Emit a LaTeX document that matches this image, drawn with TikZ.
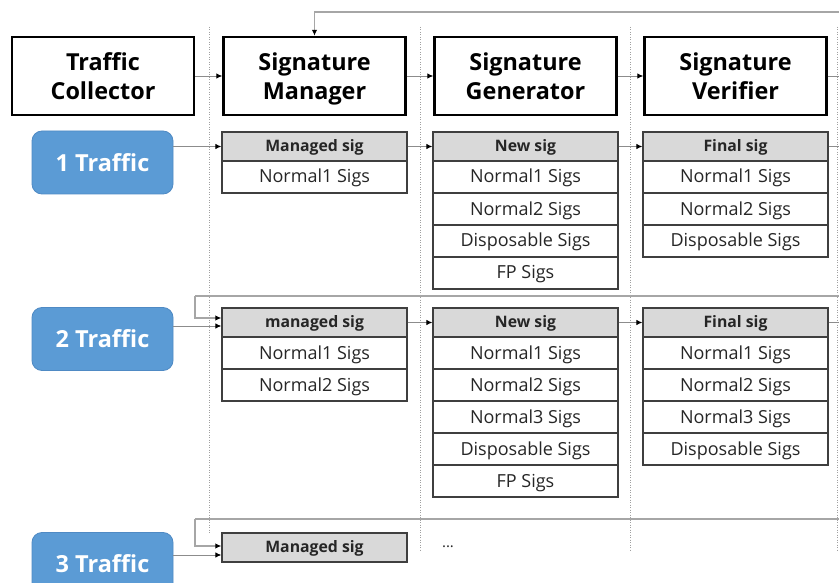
\documentclass[tikz,border=0pt]{standalone}
\usepackage{fontspec}
\setmainfont{Open Sans}
\usetikzlibrary{arrows.meta}
\definecolor{tblue}{HTML}{5B9BD5}
\definecolor{tbluedk}{HTML}{4F8AC4}
\definecolor{hgray}{HTML}{D9D9D9}
\definecolor{bgray}{HTML}{3F3F3F}
\definecolor{lgray}{HTML}{8C8C8C}
\definecolor{fgray}{HTML}{A6A6A6}
\definecolor{dgray}{HTML}{A0A0A0}
\newcommand{\toprule}{\rule{0pt}{26pt}}
\begin{document}
\begin{tikzpicture}[x=1pt,y=-1pt,
  hdr/.style={draw=black, line width=2.4pt, minimum width=182pt, minimum height=78pt, inner sep=0pt, align=center, font=\fontsize{23.4}{29}\selectfont\bfseries},
  trf/.style={fill=tblue, draw=tbluedk, line width=0.8pt, rounded corners=10pt, minimum width=141pt, minimum height=63pt, inner sep=0pt, text=white, font=\fontsize{23.5}{27}\selectfont\bfseries},
  chead/.style={draw=bgray, fill=hgray, line width=1.3pt, minimum width=185pt, minimum height=29pt, inner sep=0pt, text height=11.5pt, text depth=1pt, text=black!85, font=\fontsize{15.8}{18}\selectfont\bfseries},
  cell/.style={draw=bgray, fill=white, line width=1.3pt, minimum width=185pt, minimum height=32pt, inner sep=0pt, text height=13pt, text depth=1pt, text=black!85, font=\fontsize{18}{20}\selectfont},
  conn/.style={draw=lgray, line width=0.9pt, -{Latex[length=6pt,width=5.5pt,color=black]}},
  plain/.style={draw=lgray, line width=0.9pt},
  fb/.style={draw=fgray, line width=1.3pt},
  fbarrow/.style={draw=fgray, line width=1.3pt, -{Latex[length=6pt,width=5.5pt,color=black]}},
  sep/.style={draw=dgray, line width=1pt, dash pattern=on 1pt off 1.5pt}
]
\useasboundingbox (0,0) rectangle (839,583);
\fill[white] (0,0) rectangle (839,583);

% dotted separators
\draw[sep] (209,27) -- (209,533);
\draw[sep] (420,27) -- (420,550);
\draw[sep] (630,27) -- (630,550);
\draw[sep] (837,27) -- (837,550);

% header boxes
\node[hdr] (tc) at (103,76) {\toprule Traffic\\Collector\strut};
\node[hdr] (sm) at (314.5,76) {\toprule Signature\\Manager\strut};
\node[hdr] (sg) at (525.5,76) {\toprule Signature\\Generator\strut};
\node[hdr] (sv) at (735.5,76) {\toprule Signature\\Verifier\strut};

% traffic boxes
\node[trf] (t1) at (102.5,162.5) {1 Traffic};
\node[trf] (t2) at (102.5,339) {2 Traffic};
\node[trf] (t3) at (102.5,564) {3 Traffic};

% row 1 tables
\node[chead] (m1h) at (314.5,146.5) {Managed sig};
\node[cell]  (m1a) at (314.5,177) {Normal1 Sigs};

\node[chead] (g1h) at (525.5,146.5) {New sig};
\node[cell]  (g1a) at (525.5,177) {Normal1 Sigs};
\node[cell]  (g1b) at (525.5,209) {Normal2 Sigs};
\node[cell]  (g1c) at (525.5,241) {Disposable Sigs};
\node[cell]  (g1d) at (525.5,273) {FP Sigs};

\node[chead] (v1h) at (735.5,146.5) {Final sig};
\node[cell]  (v1a) at (735.5,177) {Normal1 Sigs};
\node[cell]  (v1b) at (735.5,209) {Normal2 Sigs};
\node[cell]  (v1c) at (735.5,241) {Disposable Sigs};

% row 2 tables
\node[chead] (m2h) at (314.5,322.5) {managed sig};
\node[cell]  (m2a) at (314.5,353) {Normal1 Sigs};
\node[cell]  (m2b) at (314.5,385) {Normal2 Sigs};

\node[chead] (g2h) at (525.5,322.5) {New sig};
\node[cell]  (g2a) at (525.5,353) {Normal1 Sigs};
\node[cell]  (g2b) at (525.5,385) {Normal2 Sigs};
\node[cell]  (g2c) at (525.5,417) {Normal3 Sigs};
\node[cell]  (g2d) at (525.5,449) {Disposable Sigs};
\node[cell]  (g2e) at (525.5,481) {FP Sigs};

\node[chead] (v2h) at (735.5,322.5) {Final sig};
\node[cell]  (v2a) at (735.5,353) {Normal1 Sigs};
\node[cell]  (v2b) at (735.5,385) {Normal2 Sigs};
\node[cell]  (v2c) at (735.5,417) {Normal3 Sigs};
\node[cell]  (v2d) at (735.5,449) {Disposable Sigs};

% row 3
\node[chead] (m3h) at (314.5,547.5) {Managed sig};
\node[font=\fontsize{15}{18}\selectfont, text=black!85] (dots) at (448,547) {...};

% free ends
\coordinate (e0) at (839,76);
\coordinate (e1) at (839,146.5);
\coordinate (e2) at (839,322.5);
\coordinate (f0) at (839,12);
\coordinate (f2) at (839,296);
\coordinate (c2) at (195,296);
\coordinate (f3) at (839,519);
\coordinate (c3) at (195,519);
\coordinate (m2fb) at ([yshift=4.5pt]m2h.west);
\coordinate (m2in) at ([yshift=-3.5pt]m2h.west);
\coordinate (m3fb) at ([yshift=1.5pt]m3h.west);
\coordinate (m3in) at ([yshift=-7.5pt]m3h.west);

% header connectors
\draw[conn] (tc) -- (sm);
\draw[conn] (sm) -- (sg);
\draw[conn] (sg) -- (sv);
\draw[plain] (sv) -- (e0);
\draw[fbarrow] (f0) -| (sm.north);

% row 1 connectors
\draw[conn] (t1.east |- m1h.west) -- (m1h.west);
\draw[conn] (m1h) -- (g1h);
\draw[conn] (g1h) -- (v1h);
\draw[plain] (v1h) -- (e1);

% row 2 connectors
\draw[fb] (f2) -- (c2);
\draw[fbarrow] (c2) |- (m2fb);
\draw[conn] (t2.east |- m2in) -- (m2in);
\draw[conn] (m2h) -- (g2h);
\draw[conn] (g2h) -- (v2h);
\draw[plain] (v2h) -- (e2);

% row 3 connectors
\draw[fb] (f3) -- (c3);
\draw[fbarrow] (c3) |- (m3fb);
\draw[conn] (t3.east |- m3in) -- (m3in);
\end{tikzpicture}
\end{document}
